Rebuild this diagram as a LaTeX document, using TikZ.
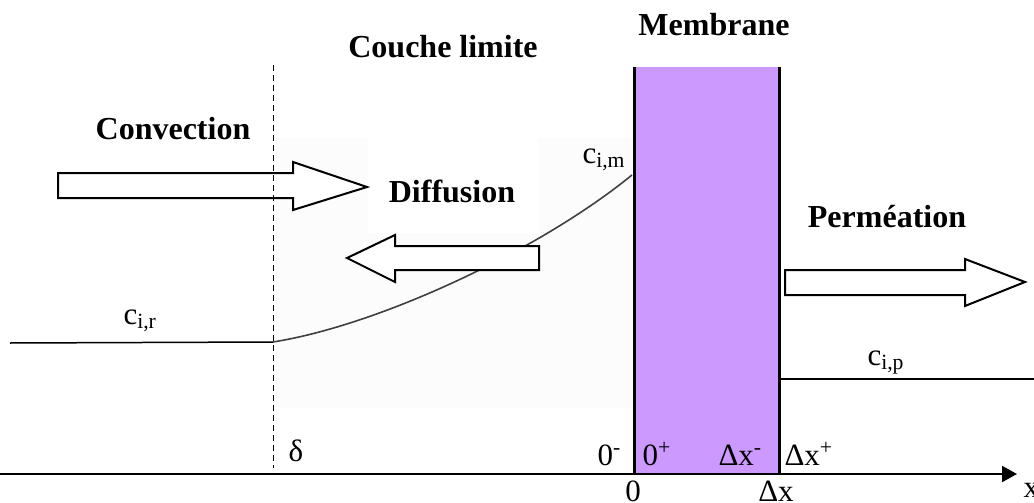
\documentclass[tikz,border=0pt]{standalone}
\usepackage{fontspec}
\setmainfont{Liberation Serif}
\usetikzlibrary{arrows.meta}
\definecolor{cmemb}{HTML}{CC99FF}
\definecolor{cfaint}{HTML}{FCFCFC}
\definecolor{ccurve}{HTML}{404040}
\tikzset{
  every picture/.style={line width=0.5pt},
  title/.style={font=\fontsize{16}{19}\selectfont\bfseries, anchor=base, inner sep=0pt},
  lbl/.style={font=\fontsize{15.5}{18}\selectfont, anchor=base west, inner sep=0pt},
  lblc/.style={font=\fontsize{15.5}{18}\selectfont, anchor=base, inner sep=0pt},
  flux/.style={draw=black, fill=white, line width=1pt, line join=miter},
  wall/.style={line width=1.5pt},
  axis/.style={line width=1pt, -{Triangle[length=7.5pt, width=8pt]}},
}

\begin{document}
\begin{tikzpicture}[x=0.5pt, y=-0.5pt]
  \useasboundingbox (0,0) rectangle (1034,503);
  % boundary layer
  \fill[cfaint] (276,138) rectangle (632,408);
  \fill[white] (368,138) rectangle (538,233);
  % membrane
  \fill[cmemb] (634,67) rectangle (779,474);
  \coordinate (mlt) at (634,67); \coordinate (mlb) at (634,474);
  \coordinate (mrt) at (779,67); \coordinate (mrb) at (779,474);
  \draw[wall] (mlt) -- (mlb);
  \draw[wall] (mrt) -- (mrb);
  % concentration profile
  \coordinate (r0) at (10,343); \coordinate (r1) at (273,342); \coordinate (rm) at (632,175);
  \draw[line width=0.75pt] (r0) -- (r1);
  \draw[ccurve, line width=0.8pt] (r1) .. controls (380,325) and (540,250) .. (rm);
  \coordinate (p0) at (779,379); \coordinate (p1) at (1034,379);
  \draw[line width=0.75pt] (p0) -- (p1);
  % fluxes
  \draw[flux] (58,173) -- (293,173) -- (293,162) -- (367,187) -- (293,210) -- (293,198) -- (58,198) -- cycle;
  \draw[flux] (539,246) -- (395,246) -- (395,235) -- (347,258) -- (395,282) -- (395,270) -- (539,270) -- cycle;
  \draw[flux] (785,270) -- (965,270) -- (965,259) -- (1025,282) -- (965,306) -- (965,295) -- (785,295) -- cycle;
  % delta
  \coordinate (dt) at (273,65); \coordinate (db) at (273,468);
  \draw[dash pattern=on 3pt off 2pt] (dt) -- (db);
  % axis
  \coordinate (o) at (0,474); \coordinate (xe) at (1017,474);
  \draw[axis] (o) -- (xe);
  % titles
  \node[title] (conv) at (173,139) {Convection};
  \node[title] (couche) at (443,57) {Couche limite};
  \node[title] (memb) at (714,35) {Membrane};
  \node[title] (diff) at (452,202) {Diffusion};
  \node[title] (perm) at (887,227) {Perméation};
  % concentrations
  \node[lbl] (cir) at (123,324) {c\textsubscript{i,r}};
  \node[lbl] (cim) at (582,163) {c\textsubscript{i,m}};
  \node[lbl] (cip) at (867,365) {c\textsubscript{i,p}};
  % positions
  \node[lbl] (delta) at (288,461) {δ};
  \node[lbl] (zm) at (597,465) {0\textsuperscript{-}};
  \node[lbl] (zp) at (642,465) {0\textsuperscript{+}};
  \node[lbl] (dxm) at (718,465) {Δx\textsuperscript{-}};
  \node[lbl] (dxp) at (784,465) {Δx\textsuperscript{+}};
  \node[lblc] (zero) at (633,501) {0};
  \node[lblc] (dx) at (776,501) {Δx};
  \node[lbl] (xlab) at (1023,497) {x};
\end{tikzpicture}
\end{document}
